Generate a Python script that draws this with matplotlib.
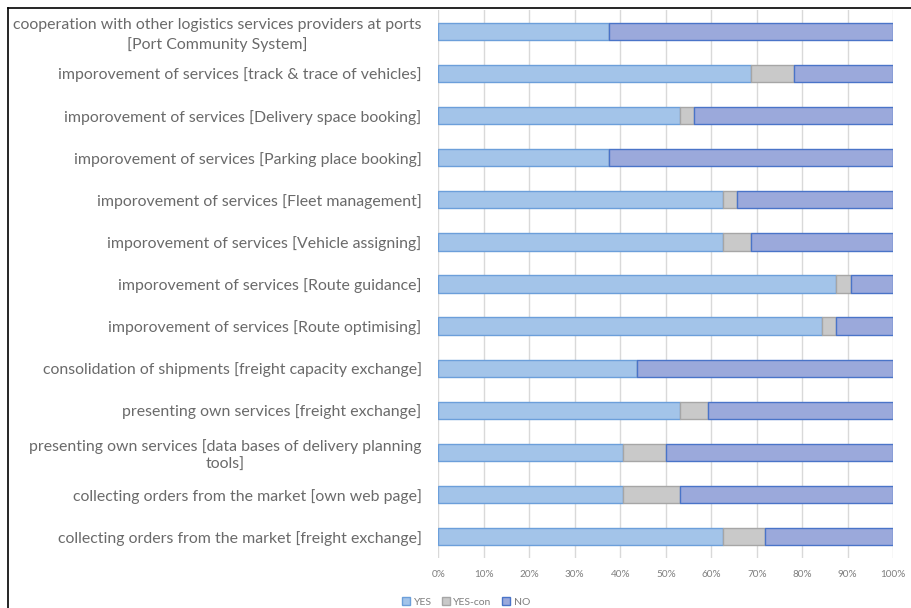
import matplotlib
matplotlib.use("Agg")
import matplotlib.pyplot as plt
from matplotlib.lines import Line2D
import numpy as np

categories = [
    "cooperation with other logistics services providers at ports\n[Port Community System]",
    "imporovement of services [track & trace of vehicles]",
    "imporovement of services [Delivery space booking]",
    "imporovement of services [Parking place booking]",
    "imporovement of services [Fleet management]",
    "imporovement of services [Vehicle assigning]",
    "imporovement of services [Route guidance]",
    "imporovement of services [Route optimising]",
    "consolidation of shipments [freight capacity exchange]",
    "presenting own services [freight exchange]",
    "presenting own services [data bases of delivery planning\ntools]",
    "collecting orders from the market [own web page]",
    "collecting orders from the market [freight exchange]",
]
yes = [37.5, 68.75, 53.1, 37.5, 62.5, 62.5, 87.5, 84.4, 43.75, 53.1, 40.6, 40.6, 62.5]
yes_con = [0.0, 9.4, 3.1, 0.0, 3.1, 6.25, 3.1, 3.1, 0.0, 6.25, 9.4, 12.5, 9.4]
no = [62.5, 21.85, 43.8, 62.5, 34.4, 31.25, 9.4, 12.5, 56.25, 40.65, 50.0, 46.9, 28.1]
series_names = ["YES", "YES-con", "NO"]
xticks = [0, 10, 20, 30, 40, 50, 60, 70, 80, 90, 100]

plt.rcParams['font.family'] = ['Lato', 'DejaVu Sans']

fig = plt.figure(figsize=(9.11, 6.08), dpi=100)
ax = fig.add_axes([438.3 / 911, (608 - 557.7) / 608, 455 / 911, (557.7 - 10.3) / 608])

ypos = np.arange(len(categories))
h = 0.41
yes_a = np.array(yes)
con_a = np.array(yes_con)
no_a = np.array(no)

ax.barh(ypos, yes_a, height=h, color="#A3C4E9", edgecolor="#6C9FDA", linewidth=1.0,
        label=series_names[0], zorder=3)
ax.barh(ypos, con_a, left=yes_a, height=h, color="#C9C9C9", edgecolor="#A6A6A6",
        linewidth=1.0, label=series_names[1], zorder=3)
ax.barh(ypos, no_a, left=yes_a + con_a, height=h, color="#9BA9DB", edgecolor="#4A74C8",
        linewidth=1.0, label=series_names[2], zorder=3)

ax.set_xlim(0, 100)
ax.set_ylim(len(categories) - 0.5, -0.5)
ax.set_xticks(xticks)
ax.set_xticklabels([f"{v}%" for v in xticks])
ax.set_yticks(ypos)
ax.set_yticklabels(categories)
ax.tick_params(axis="x", length=0, labelsize=7.2, colors="#7F7F7F", pad=9)
ax.tick_params(axis="y", length=0, labelsize=11.4, colors="#6A6A6A", pad=12)
for lbl in ax.get_yticklabels():
    lbl.set_multialignment("center")
    lbl.set_linespacing(1.35)
ax.grid(axis="x", color="#D9D9D9", linewidth=1.0, zorder=0)
for s in ax.spines.values():
    s.set_visible(False)

leg = fig.legend(loc="center", bbox_to_anchor=(466 / 911, (608 - 602) / 608), ncol=3,
                 frameon=False, fontsize=7.5, handlelength=0.75, handleheight=0.75,
                 handletextpad=0.35, columnspacing=1.0, labelcolor="#7F7F7F")

# outer frame
fig.add_artist(Line2D([8 / 911, 1.0], [1 - 8 / 608, 1 - 8 / 608], color="black",
                      linewidth=1.2, transform=fig.transFigure))
fig.add_artist(Line2D([8 / 911, 8 / 911], [0, 1 - 8 / 608], color="black",
                      linewidth=1.2, transform=fig.transFigure))

fig.savefig("out.png", dpi=100)
